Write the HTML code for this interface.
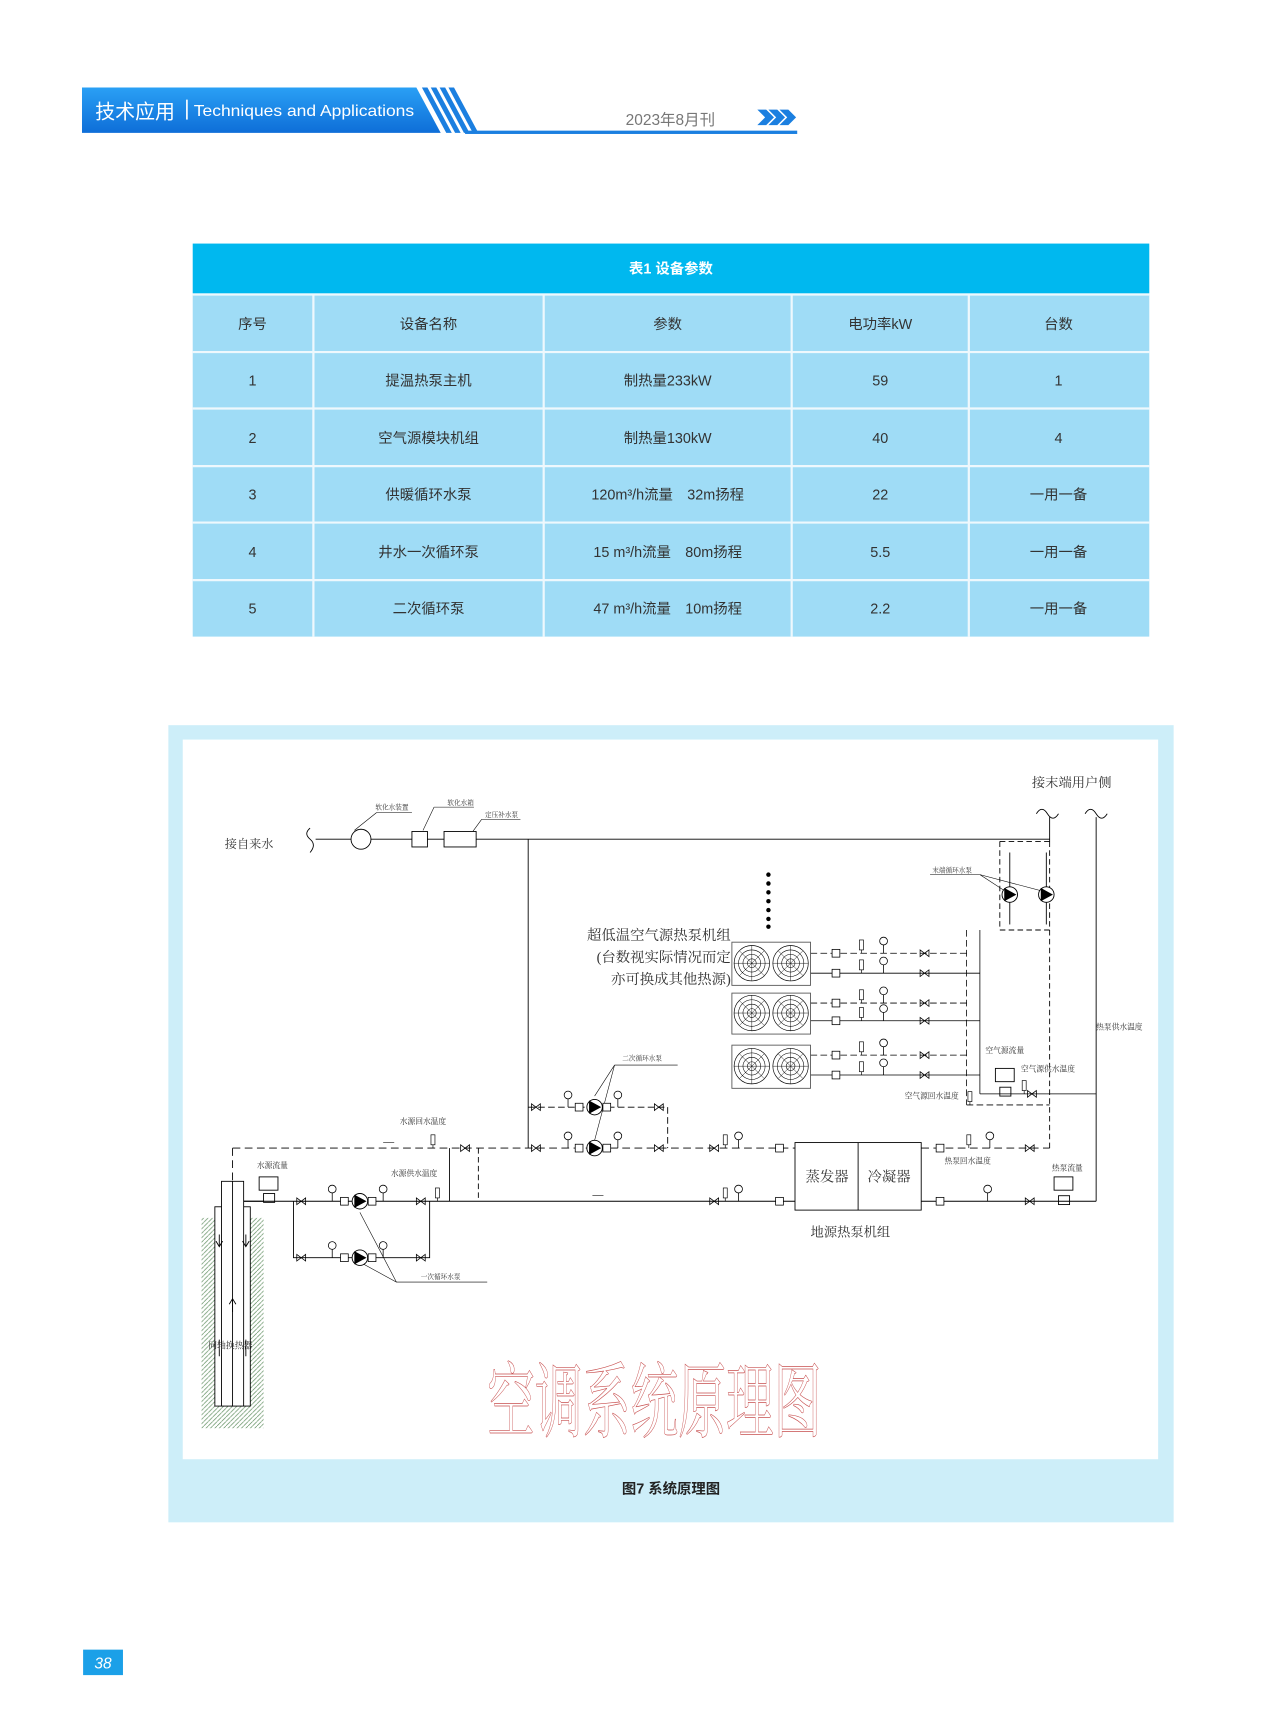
<!DOCTYPE html>
<html><head><meta charset="utf-8"><style>
html,body{margin:0;padding:0;background:#fff}
body{width:1280px;height:1736px;overflow:hidden}
svg{display:block}
.t{font-family:"Liberation Sans","Noto Sans CJK SC",sans-serif}
.s{font-family:"Liberation Serif","Noto Serif CJK SC",serif}
</style></head><body>
<svg width="1280" height="1736" viewBox="0 0 1156 1568" xmlns="http://www.w3.org/2000/svg">
<defs>
<g id="pump"><circle r="7" fill="#fff" stroke="#000" stroke-width="0.8"/><path d="M-5,-6 L6,0 L-5,6 Z" fill="#000"/></g>
<g id="gauge"><line x1="0" y1="0" x2="0" y2="-8" stroke="#000" stroke-width="0.7"/><circle cx="0" cy="-11" r="3.5" fill="#fff" stroke="#000" stroke-width="0.7"/></g>
<g id="valve"><path d="M-4,-3 L4,3 L4,-3 L-4,3 Z" fill="none" stroke="#000" stroke-width="0.7"/></g>
<g id="sq"><rect x="-3.5" y="-3.5" width="7" height="7" fill="#fff" stroke="#000" stroke-width="0.7"/></g>
<g id="therm"><rect x="-1.8" y="-12" width="3.6" height="9" fill="#fff" stroke="#000" stroke-width="0.6"/><line x1="0" y1="-3" x2="0" y2="0" stroke="#000" stroke-width="0.6"/></g>
<g id="fan"><circle r="16" fill="none" stroke="#000" stroke-width="0.6"/><circle r="12" fill="none" stroke="#000" stroke-width="0.5"/><circle r="8" fill="none" stroke="#000" stroke-width="0.5"/><circle r="4" fill="none" stroke="#000" stroke-width="0.5"/><path d="M-16,0H16M0,-16V16M-11,-11L11,11M-11,11L11,-11" stroke="#000" stroke-width="0.4"/></g>
<pattern id="hatch" width="4" height="4" patternUnits="userSpaceOnUse"><path d="M0,4L4,0" stroke="#5a8a5a" stroke-width="0.6"/></pattern>
<linearGradient id="hg" x1="0" x2="0" y1="0" y2="1"><stop offset="0" stop-color="#2aa0f5"/><stop offset="1" stop-color="#0e6ed8"/></linearGradient>
</defs>

<!-- header -->
<path d="M74,79 H376 L398,120 H74 Z" fill="url(#hg)"/>
<path d="M381,79 h5 l22,41 h-5 Z M389,79 h5 l22,41 h-5 Z M397,79 h5 l22,41 h-5 Z M405,79 h5 l22,41 h-5 Z" fill="#1b7fe0"/>
<rect x="420" y="118" width="300" height="3" fill="#1b7fe0"/>
<text x="86" y="107" class="t" font-size="18" fill="#fff">技术应用</text>
<rect x="168" y="90" width="1.5" height="18" fill="#fff"/>
<text x="175" y="105" class="t" font-size="14" fill="#fff" textLength="199" lengthAdjust="spacingAndGlyphs">Techniques and Applications</text>
<text x="565" y="113" class="t" font-size="14" fill="#777">2023年8月刊</text>
<path d="M684,99 l8,0 l7,7 l-7,7 h-8 l7,-7Z M694,99 l8,0 l7,7 l-7,7 h-8 l7,-7Z M704,99 l8,0 l7,7 l-7,7 h-8 l7,-7Z" fill="#1b7fe0"/>

<!-- table -->
<rect x="174" y="220" width="864" height="45" fill="#00b8ef"/>
<text x="606" y="247" class="t" font-size="13" font-weight="bold" fill="#fff" text-anchor="middle">表1 设备参数</text>
<rect x="174" y="266" width="864" height="309" fill="#9fdcf6"/>
<g stroke="#eef8fd" stroke-width="2">
<line x1="174" y1="266" x2="1038" y2="266"/><line x1="174" y1="318" x2="1038" y2="318"/><line x1="174" y1="369" x2="1038" y2="369"/><line x1="174" y1="421" x2="1038" y2="421"/><line x1="174" y1="472" x2="1038" y2="472"/><line x1="174" y1="524" x2="1038" y2="524"/>
<line x1="283" y1="266" x2="283" y2="575"/><line x1="491" y1="266" x2="491" y2="575"/><line x1="715" y1="266" x2="715" y2="575"/><line x1="875" y1="266" x2="875" y2="575"/>
</g>
<g class="t" font-size="13" fill="#333" text-anchor="middle">
<text x="228" y="297">序号</text><text x="387" y="297">设备名称</text><text x="603" y="297">参数</text><text x="795" y="297">电功率kW</text><text x="956" y="297">台数</text>
<text x="228" y="348">1</text><text x="387" y="348">提温热泵主机</text><text x="603" y="348">制热量233kW</text><text x="795" y="348">59</text><text x="956" y="348">1</text>
<text x="228" y="400">2</text><text x="387" y="400">空气源模块机组</text><text x="603" y="400">制热量130kW</text><text x="795" y="400">40</text><text x="956" y="400">4</text>
<text x="228" y="451">3</text><text x="387" y="451">供暖循环水泵</text><text x="603" y="451">120m³/h流量　32m扬程</text><text x="795" y="451">22</text><text x="956" y="451">一用一备</text>
<text x="228" y="503">4</text><text x="387" y="503">井水一次循环泵</text><text x="603" y="503">15 m³/h流量　80m扬程</text><text x="795" y="503">5.5</text><text x="956" y="503">一用一备</text>
<text x="228" y="554">5</text><text x="387" y="554">二次循环泵</text><text x="603" y="554">47 m³/h流量　10m扬程</text><text x="795" y="554">2.2</text><text x="956" y="554">一用一备</text>
</g>

<!-- figure panel -->
<rect x="152" y="655" width="908" height="720" fill="#cdeef9"/>
<rect x="165" y="668" width="881" height="650" fill="#fff"/>
<text x="606" y="1349" class="t" font-size="13" font-weight="bold" fill="#222" text-anchor="middle">图7 系统原理图</text>

<!-- page number -->
<rect x="75" y="1490" width="36" height="23" fill="#1ba0e8"/>
<text x="93" y="1507" class="t" font-size="14" fill="#fff" text-anchor="middle" font-style="italic">38</text>

<!-- diagram -->
<g fill="none" stroke="#000" stroke-width="0.8">
<path d="M280,748 q-6,5 0,10 q6,5 0,12"/>
<line x1="285" y1="758" x2="317" y2="758"/><circle cx="326" cy="758" r="9"/>
<line x1="335" y1="758" x2="372" y2="758"/>
<rect x="372" y="751" width="14" height="14"/><line x1="386" y1="758" x2="401" y2="758"/>
<rect x="401" y="751" width="29" height="14"/>
<line x1="430" y1="758" x2="948" y2="758"/>
<line x1="320" y1="750" x2="340" y2="734" stroke-width="0.5"/><line x1="340" y1="734" x2="372" y2="734" stroke-width="0.5"/>
<line x1="382" y1="750" x2="392" y2="729" stroke-width="0.5"/><line x1="392" y1="729" x2="428" y2="729" stroke-width="0.5"/>
<line x1="427" y1="751" x2="435" y2="740" stroke-width="0.5"/><line x1="435" y1="740" x2="470" y2="740" stroke-width="0.5"/>
<line x1="477" y1="758" x2="477" y2="1037"/>
<path d="M936,735 q5,-8 10,0 q5,8 10,0"/><path d="M980,735 q5,-8 10,0 q5,8 10,0"/>
<line x1="948" y1="738" x2="948" y2="760"/>
<line x1="990" y1="738" x2="990" y2="1085"/>
<line x1="948" y1="760" x2="948" y2="1037" stroke-dasharray="5,3"/>
<line x1="903" y1="760" x2="948" y2="760" stroke-dasharray="5,3"/>
<line x1="903" y1="760" x2="903" y2="840" stroke-dasharray="5,3"/>
<line x1="903" y1="840" x2="948" y2="840" stroke-dasharray="5,3"/>
<line x1="912" y1="770" x2="912" y2="835"/><line x1="945" y1="770" x2="945" y2="835"/>
<line x1="840" y1="790" x2="885" y2="790" stroke-width="0.5"/><line x1="885" y1="790" x2="908" y2="805" stroke-width="0.5"/><line x1="885" y1="790" x2="942" y2="805" stroke-width="0.5"/>
<g stroke-width="0.7">
<line x1="732" y1="861" x2="873" y2="861" stroke-dasharray="6,3"/><line x1="732" y1="879" x2="885" y2="879"/>
<line x1="732" y1="906" x2="873" y2="906" stroke-dasharray="6,3"/><line x1="732" y1="922" x2="885" y2="922"/>
<line x1="732" y1="953" x2="873" y2="953" stroke-dasharray="6,3"/><line x1="732" y1="971" x2="885" y2="971"/>
<line x1="873" y1="840" x2="873" y2="998" stroke-dasharray="6,3"/>
<line x1="873" y1="998" x2="948" y2="998" stroke-dasharray="6,3"/>
<line x1="885" y1="840" x2="885" y2="988"/>
<line x1="885" y1="988" x2="990" y2="988"/>
</g>
<line x1="210" y1="1037" x2="718" y2="1037" stroke-dasharray="7,4"/>
<line x1="210" y1="1037" x2="210" y2="1067" stroke-dasharray="7,4"/>
<line x1="220" y1="1085" x2="718" y2="1085"/>
<line x1="832" y1="1037" x2="948" y2="1037" stroke-dasharray="7,4"/>
<line x1="832" y1="1085" x2="990" y2="1085"/>
<line x1="432" y1="1037" x2="432" y2="1085" stroke-dasharray="5,3"/>
<line x1="406" y1="1037" x2="406" y2="1085"/>
<path d="M477,1000 H603 V1037" stroke-dasharray="6,3"/>
<path d="M265,1085 V1136 H388 V1085"/>
<rect x="718" y="1032" width="114" height="61"/><line x1="775" y1="1032" x2="775" y2="1093"/>
<rect x="661" y="851" width="71" height="39" stroke="#555"/>
<rect x="661" y="897" width="71" height="37" stroke="#555"/>
<rect x="661" y="944" width="71" height="39" stroke="#555"/>
<rect x="182" y="1100" width="56" height="190" fill="url(#hatch)" stroke="none"/>
<rect x="194" y="1090" width="32" height="180" fill="#fff"/>
<rect x="200" y="1067" width="20" height="203" fill="#fff"/>
<line x1="210" y1="1067" x2="210" y2="1270"/>
<line x1="220" y1="1085" x2="238" y2="1085"/>
<path d="M198,1115 v10 M195,1121 l3,5 l3,-5 M222,1115 v10 M219,1121 l3,5 l3,-5 M210,1185 v-12 M207,1178 l3,-5 l3,5 M198,1210 v15 M222,1210 v15"/>
<line x1="537" y1="990" x2="555" y2="962" stroke-width="0.5"/><line x1="537" y1="1030" x2="555" y2="962" stroke-width="0.5"/><line x1="555" y1="962" x2="612" y2="962" stroke-width="0.5"/>
<line x1="325" y1="1095" x2="358" y2="1158" stroke-width="0.5"/><line x1="325" y1="1140" x2="358" y2="1158" stroke-width="0.5"/><line x1="358" y1="1158" x2="440" y2="1158" stroke-width="0.5"/>
<line x1="346" y1="1032" x2="356" y2="1032" stroke-width="0.5"/><line x1="535" y1="1080" x2="545" y2="1080" stroke-width="0.5"/>
<rect x="234" y="1063" width="17" height="12"/><rect x="238" y="1078" width="10" height="8"/>
<rect x="952" y="1063" width="17" height="12"/><rect x="956" y="1080" width="10" height="8"/>
<rect x="899" y="965" width="17" height="12"/><rect x="903" y="982" width="10" height="8"/>
</g>

<g transform="translate(679,870)"><use href="#fan"/></g><g transform="translate(714,870)"><use href="#fan"/></g>
<g transform="translate(679,915)"><use href="#fan"/></g><g transform="translate(714,915)"><use href="#fan"/></g>
<g transform="translate(679,963)"><use href="#fan"/></g><g transform="translate(714,963)"><use href="#fan"/></g>
<g fill="#000"><circle cx="694" cy="790" r="2"/><circle cx="694" cy="798" r="2"/><circle cx="694" cy="806" r="2"/><circle cx="694" cy="814" r="2"/><circle cx="694" cy="822" r="2"/><circle cx="694" cy="830" r="2"/><circle cx="694" cy="837" r="2"/></g>

<use href="#pump" x="537" y="1000"/><use href="#pump" x="537" y="1037"/>
<use href="#pump" x="325" y="1085"/><use href="#pump" x="325" y="1136"/>
<use href="#pump" x="912" y="808"/><use href="#pump" x="945" y="808"/>
<use href="#gauge" x="513" y="1000"/><use href="#gauge" x="558" y="1000"/><use href="#gauge" x="513" y="1037"/><use href="#gauge" x="558" y="1037"/>
<use href="#gauge" x="667" y="1037"/><use href="#gauge" x="667" y="1085"/><use href="#gauge" x="894" y="1037"/><use href="#gauge" x="892" y="1085"/>
<use href="#gauge" x="300" y="1085"/><use href="#gauge" x="346" y="1085"/><use href="#gauge" x="300" y="1136"/><use href="#gauge" x="346" y="1136"/>
<use href="#gauge" x="798" y="861"/><use href="#gauge" x="798" y="879"/><use href="#gauge" x="798" y="906"/><use href="#gauge" x="798" y="922"/><use href="#gauge" x="798" y="953"/><use href="#gauge" x="798" y="971"/>
<use href="#therm" x="655" y="1037"/><use href="#therm" x="655" y="1085"/><use href="#therm" x="875" y="1037"/><use href="#therm" x="395" y="1085"/><use href="#therm" x="391" y="1037"/><use href="#therm" x="876" y="998"/><use href="#therm" x="925" y="988"/>
<use href="#therm" x="778" y="861"/><use href="#therm" x="778" y="879"/><use href="#therm" x="778" y="906"/><use href="#therm" x="778" y="922"/><use href="#therm" x="778" y="953"/><use href="#therm" x="778" y="971"/>
<use href="#sq" x="523" y="1000"/><use href="#sq" x="548" y="1000"/><use href="#sq" x="523" y="1037"/><use href="#sq" x="548" y="1037"/>
<use href="#sq" x="704" y="1037"/><use href="#sq" x="704" y="1085"/><use href="#sq" x="849" y="1037"/><use href="#sq" x="849" y="1085"/>
<use href="#sq" x="311" y="1085"/><use href="#sq" x="336" y="1085"/><use href="#sq" x="311" y="1136"/><use href="#sq" x="336" y="1136"/>
<use href="#sq" x="755" y="861"/><use href="#sq" x="755" y="879"/><use href="#sq" x="755" y="906"/><use href="#sq" x="755" y="922"/><use href="#sq" x="755" y="953"/><use href="#sq" x="755" y="971"/>
<use href="#valve" x="484" y="1000"/><use href="#valve" x="595" y="1000"/><use href="#valve" x="484" y="1037"/><use href="#valve" x="595" y="1037"/>
<use href="#valve" x="420" y="1037"/><use href="#valve" x="645" y="1037"/><use href="#valve" x="645" y="1085"/><use href="#valve" x="930" y="1037"/><use href="#valve" x="930" y="1085"/>
<use href="#valve" x="272" y="1085"/><use href="#valve" x="380" y="1085"/><use href="#valve" x="272" y="1136"/><use href="#valve" x="380" y="1136"/>
<use href="#valve" x="835" y="861"/><use href="#valve" x="835" y="879"/><use href="#valve" x="835" y="906"/><use href="#valve" x="835" y="922"/><use href="#valve" x="835" y="953"/><use href="#valve" x="835" y="971"/>
<use href="#valve" x="932" y="988"/>

<g class="s" fill="#333">
<text x="203" y="766" font-size="11">接自来水</text>
<text x="932" y="711" font-size="12">接末端用户侧</text>
<text x="339" y="731" font-size="6">软化水装置</text>
<text x="404" y="727" font-size="6">软化水箱</text>
<text x="438" y="738" font-size="6">定压补水泵</text>
<text x="842" y="788" font-size="6">末端循环水泵</text>
<text x="660" y="849" font-size="13" text-anchor="end">超低温空气源热泵机组</text>
<text x="660" y="869" font-size="13" text-anchor="end">(台数视实际情况而定</text>
<text x="660" y="889" font-size="13" text-anchor="end">亦可换成其他热源)</text>
<text x="562" y="958" font-size="6">二次循环水泵</text>
<text x="990" y="930" font-size="7">热泵供水温度</text>
<text x="890" y="951" font-size="7">空气源流量</text>
<text x="922" y="968" font-size="7">空气源供水温度</text>
<text x="817" y="992" font-size="7">空气源回水温度</text>
<text x="361" y="1015" font-size="7">水源回水温度</text>
<text x="232" y="1055" font-size="7">水源流量</text>
<text x="353" y="1062" font-size="7">水源供水温度</text>
<text x="853" y="1051" font-size="7">热泵回水温度</text>
<text x="950" y="1057" font-size="7">热泵流量</text>
<text x="380" y="1155" font-size="6">一次循环水泵</text>
<text x="188" y="1218" font-size="8">同轴换热器</text>
<text x="747" y="1067" font-size="13" text-anchor="middle">蒸发器</text>
<text x="803" y="1067" font-size="13" text-anchor="middle">冷凝器</text>
<text x="768" y="1117" font-size="12" text-anchor="middle">地源热泵机组</text>
</g>
<text x="440" y="1292" class="s" font-size="74" fill="none" stroke="#c85050" stroke-width="0.6" textLength="302" lengthAdjust="spacingAndGlyphs">空调系统原理图</text>
</svg>
</body></html>
